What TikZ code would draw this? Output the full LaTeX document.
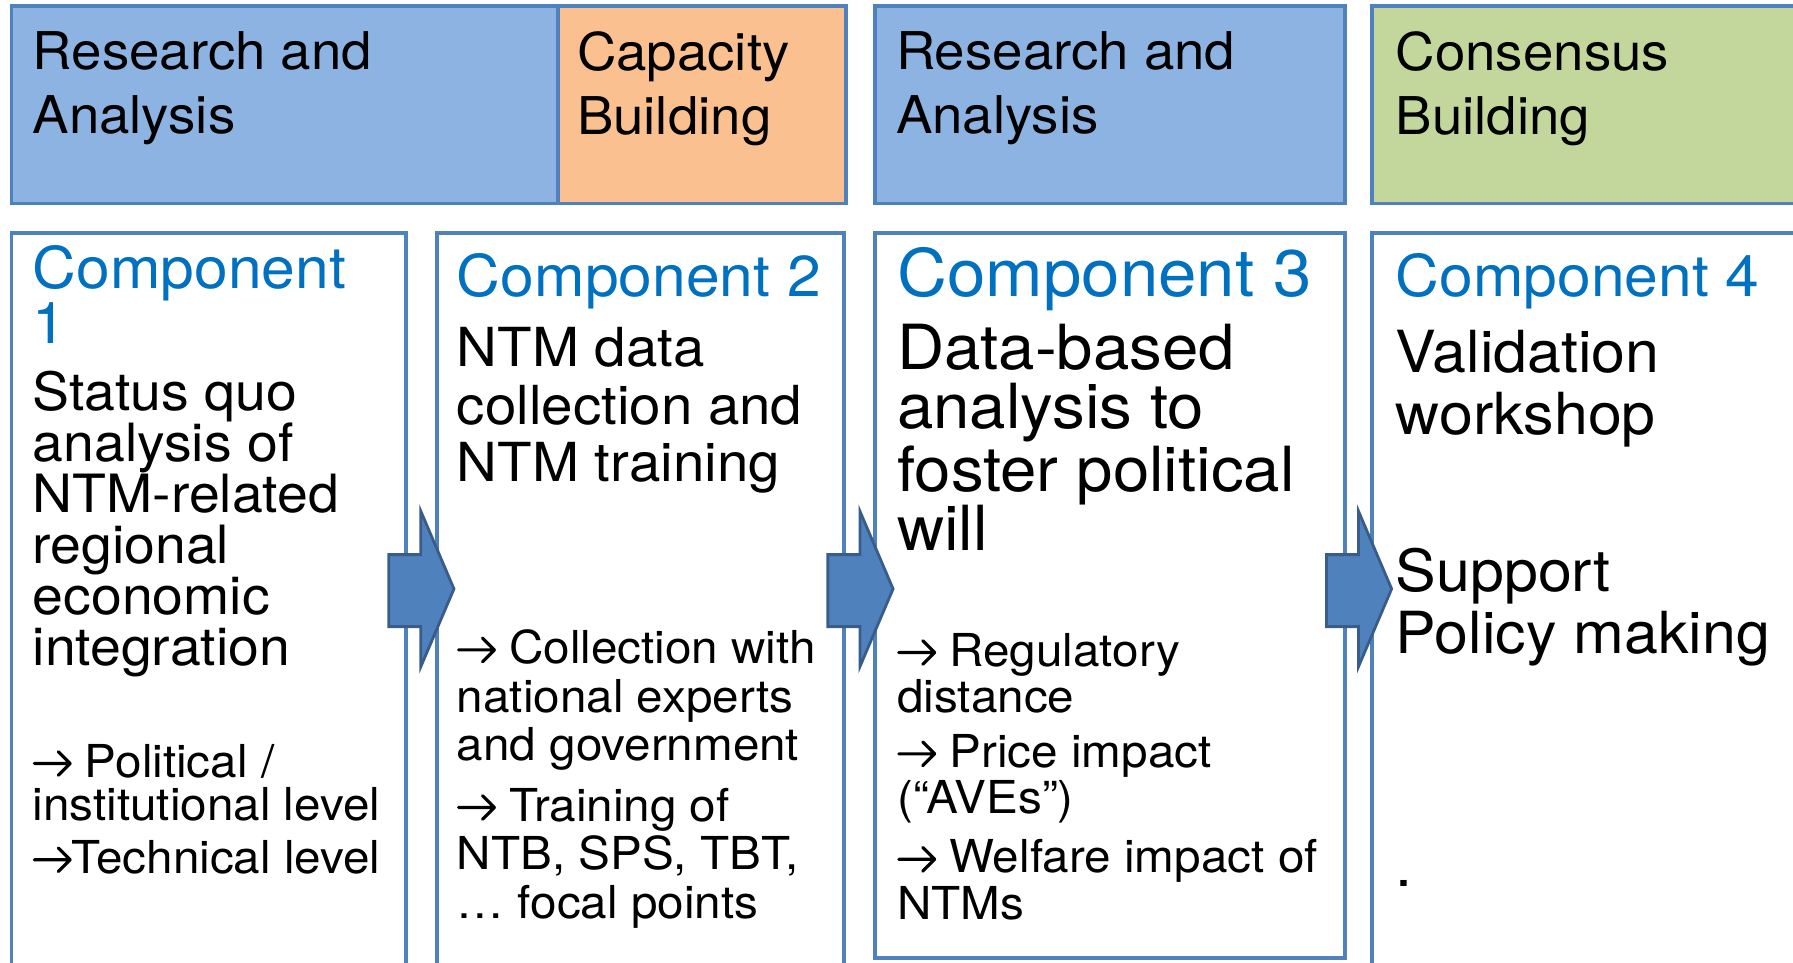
\documentclass[tikz,border=0pt]{standalone}
\usepackage{fontspec}
\setmainfont{TeX Gyre Heros}[FakeStretch=1.05]
\definecolor{rablue}{HTML}{8DB3E2}
\definecolor{cborange}{HTML}{FAC090}
\definecolor{cbgreen}{HTML}{C3D69B}
\definecolor{boxline}{HTML}{4F81BD}
\definecolor{arrline}{HTML}{385D8A}
\definecolor{comptext}{HTML}{0070C0}
\newcommand{\toarr}{\tikz[baseline=0pt]\draw[line width=0.07em, line cap=round, line join=round] (0.03em,0.3em) -- (0.82em,0.3em) (0.56em,0.56em) -- (0.82em,0.3em) -- (0.56em,0.04em);}

\begin{document}
\begin{tikzpicture}[x=0.011435cm, y=-0.011435cm,
    frame/.style={draw=boxline, line width=1.1pt},
    txt/.style={anchor=north west, inner sep=0pt, align=left},
    comp/.style={txt, text=comptext}]
        \useasboundingbox (0,0) rectangle (1568,842);
        \clip (0,0) rectangle (1568,842);
        
        % top row
        \draw[frame, fill=rablue] (10,5) rectangle (488,178);
        \draw[frame, fill=cborange] (488,5) rectangle (740,178);
        \draw[frame, fill=rablue] (765,5) rectangle (1176,178);
        \draw[frame, fill=cbgreen] (1200,5) rectangle (1620,178);
        
        \node[txt, font=\fontsize{14.8}{18.2}\selectfont] (R1) at (28,27) {Research and\\Analysis};
        \node[txt, font=\fontsize{14.8}{18.2}\selectfont] (K2) at (504,27) {Capacity\\Building};
        \node[txt, font=\fontsize{14.8}{18.2}\selectfont] (R3) at (783,27) {Research and\\Analysis};
        \node[txt, font=\fontsize{14.8}{18.2}\selectfont] (K4) at (1220,27) {Consensus\\Building};
        
        % components
        \draw[frame] (10,204) rectangle (355,900);
        \draw[frame] (382,204) rectangle (738,900);
        \draw[frame] (765,204) rectangle (1176,838);
        \draw[frame] (1200,204) rectangle (1620,900);
        
        \node[comp, font=\fontsize{16.4}{15.6}\selectfont] (T1) at (28,214) {Component\\1};
        \node[comp, font=\fontsize{16.4}{15.6}\selectfont] (T2) at (399,221) {Component 2};
        \node[comp, font=\fontsize{18.7}{18}\selectfont] (T3) at (784,216) {Component 3};
        \node[comp, font=\fontsize{16.4}{15.6}\selectfont] (T4) at (1220,221) {Component 4};
        
        \node[txt, font=\fontsize{15}{14.5}\selectfont] (B1) at (28,324) {Status quo\\analysis of\\NTM-related\\regional\\economic\\integration};
        \node[txt, font=\fontsize{15.3}{16.3}\selectfont] (B2) at (399,286) {NTM data\\collection and\\NTM training};
        \node[txt, font=\fontsize{17.7}{16.8}\selectfont] (B3) at (784,283) {Data-based\\analysis to\\foster political\\will};
        \node[txt, font=\fontsize{16.5}{17.6}\selectfont] (B4) at (1220,288) {Validation\\workshop};
        \node[txt, font=\fontsize{16.5}{17.6}\selectfont] (S4) at (1220,479) {Support\\Policy making};
        
        \node[txt, font=\fontsize{12.9}{12.4}\selectfont] (L1) at (28,650) {\toarr{} Political /\\institutional level\\[2.6pt]\toarr Technical level};
        \node[txt, font=\fontsize{12.9}{13.8}\selectfont] (L2) at (399,550) {\toarr{} Collection with\\national experts\\and government\\[3.4pt]\toarr{} Training of\\NTB, SPS, TBT,\\… focal points};
        \node[txt, font=\fontsize{12.9}{12}\selectfont] (L3) at (784,553) {\toarr{} Regulatory\\distance\\[3.6pt]\toarr{} Price impact\\(“AVEs”)\\[3.6pt]\toarr{} Welfare impact of\\NTMs};
        \node[anchor=base west, inner sep=0pt, font=\fontsize{16.5}{17.6}\selectfont] (D4) at (1220,775) {.};
        
        % block arrows
        \foreach \x in {340,724,1160}
          \draw[draw=arrline, fill=boxline, line width=0.8pt] (\x,485) -- (\x+28,485) -- (\x+28,447) -- (\x+57,515) -- (\x+28,583) -- (\x+28,548) -- (\x,548) -- cycle;
      \end{tikzpicture}
\end{document}
